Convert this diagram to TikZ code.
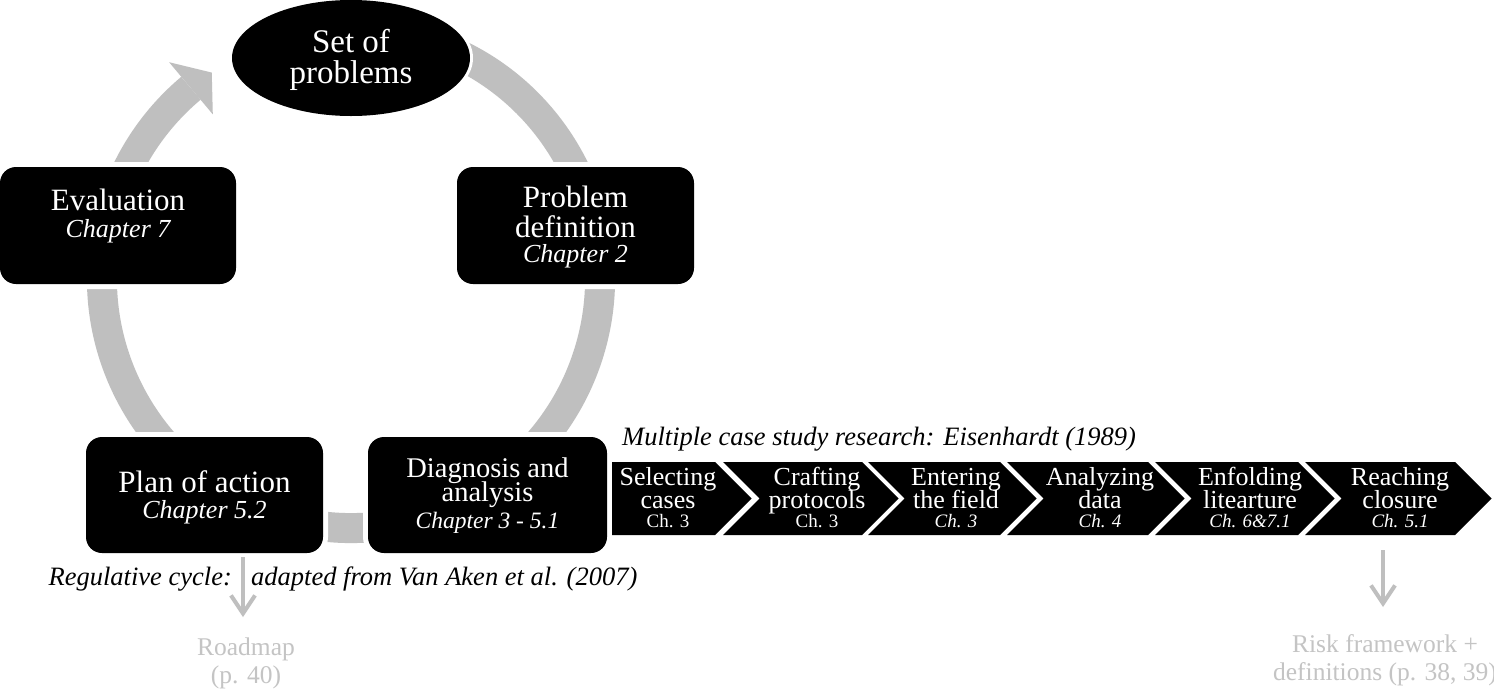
\documentclass[tikz,border=0pt]{standalone}
\usepackage{fontspec}
\setmainfont{Liberation Serif}
\usetikzlibrary{arrows.meta,calc,shapes.geometric}
\definecolor{arcgray}{HTML}{BFBFBF}
\definecolor{txtgray}{HTML}{C4C4C4}
\newcommand\fsz[1]{\fontsize{#1}{#1}\selectfont}
\newcommand\mychev[2]{\fill (#1,462) -- (#2,462) -- ({#2+36.5},498.5) -- (#2,535) -- (#1,535) -- ({#1+36.5},498.5) -- cycle;}
\tikzset{
  halo/.style={fill=black, preaction={draw=white, line width=#1}},
  cbox/.style={halo=10pt, rectangle, rounded corners=16pt, inner sep=0pt, minimum width=237pt, minimum height=117pt},
  wt/.style={text=white, inner sep=0pt, anchor=base},
  mainf/.style={wt, font=\fsz{31}},
  chapf/.style={wt, font=\fsz{26}\itshape},
  chevf/.style={wt, font=\fsz{26}},
  chf/.style={wt, font=\fsz{19}},
  chif/.style={wt, font=\fsz{19}\itshape},
  capt/.style={inner sep=0pt, anchor=base west, font=\fsz{26.5}\itshape},
  gtxt/.style={inner sep=0pt, anchor=base, text=txtgray, font=\fsz{25.5}},
  garrow/.style={draw=arcgray, line width=4pt, -{Straight Barb[length=18pt,width=24pt,line width=4pt]}}
}
\begin{document}
\begin{tikzpicture}[x=1pt,y=-1pt]
\clip (0,0) rectangle (1494,691);
\fill[white] (0,0) rectangle (1494,691);
% cycle arrow
\coordinate (cyc) at (351,279);
\draw[arcgray, line width=30pt] ([shift={(-72:249)}]cyc) arc[start angle=-72, end angle=230, radius=249];
\fill[arcgray] ([shift={(230:283)}]cyc) -- ([shift={(236:249)}]cyc) -- ([shift={(230:215)}]cyc) -- cycle;
% nodes of the cycle
\node[ellipse, halo=6pt, inner sep=0pt, minimum width=238pt, minimum height=116pt] (set) at (351,58) {};
\node[cbox, minimum width=236pt] (eval) at (118,225.5) {};
\node[cbox] (prob) at (575.5,225.5) {};
\node[cbox, minimum height=116pt] (plan) at (204.5,495) {};
\node[cbox, minimum width=239pt, minimum height=116pt] (diag) at (487.5,495) {};
% texts
\node[wt, font=\fsz{33}] (setA) at (351,52) {Set of};
\node[wt, font=\fsz{33}] (setB) at (351,83) {problems};
\node[mainf] (evalA) at (118,210) {Evaluation};
\node[chapf] (evalB) at (118,237) {Chapter 7};
\node[mainf] (probA) at (575.5,207) {Problem};
\node[mainf] (probB) at (575.5,237) {definition};
\node[chapf] (probC) at (575.5,262) {Chapter 2};
\node[mainf] (planA) at (204.5,492) {Plan of action};
\node[chapf] (planB) at (204.5,518) {Chapter 5.2};
\node[wt, font=\fsz{28.5}] (diagA) at (487.5,477) {Diagnosis and};
\node[wt, font=\fsz{28.5}] (diagB) at (487.5,501) {analysis};
\node[wt, font=\fsz{23.5}\itshape] (diagC) at (487.5,528) {Chapter 3 - 5.1};
% chevrons
\fill (612,462) -- (715,462) -- (751.5,498.5) -- (715,535) -- (612,535) -- cycle;
\mychev{723}{862}
\mychev{868}{1000}
\mychev{1007}{1148}
\mychev{1155}{1298}
\mychev{1305}{1455}
\node[chevf] (c1a) at (668,485) {Selecting};
\node[chevf] (c1b) at (668,508) {cases};
\node[chf]   (c1c) at (668,527) {Ch. 3};
\node[chevf] (c2a) at (817,485) {Crafting};
\node[chevf] (c2b) at (817,508) {protocols};
\node[chf]   (c2c) at (817,527) {Ch. 3};
\node[chevf] (c3a) at (956,485) {Entering};
\node[chevf] (c3b) at (956,508) {the field};
\node[chif]  (c3c) at (956,527) {Ch. 3};
\node[chevf] (c4a) at (1100,485) {Analyzing};
\node[chevf] (c4b) at (1100,508) {data};
\node[chif]  (c4c) at (1100,527) {Ch. 4};
\node[chevf] (c5a) at (1250,485) {Enfolding};
\node[chevf] (c5b) at (1250,508) {litearture};
\node[chif]  (c5c) at (1250,527) {Ch. 6\&7.1};
\node[chevf] (c6a) at (1400,485) {Reaching};
\node[chevf] (c6b) at (1400,508) {closure};
\node[chif]  (c6c) at (1400,527) {Ch. 5.1};
% output arrows
\coordinate (rmstart) at ($(plan.south)+(38.5,4)$);
\coordinate (rmtip) at (243,617);
\draw[garrow] (rmstart) -- (rmtip);
\node[gtxt] (rmA) at (246,655) {Roadmap};
\node[gtxt] (rmB) at (246,683) {(p. 40)};
\coordinate (rkstart) at (1383,550);
\coordinate (rktip) at (1383,607);
\draw[garrow] (rkstart) -- (rktip);
\node[gtxt] (rkA) at (1385,652) {Risk framework +};
\node[gtxt] (rkB) at (1385,680) {definitions (p. 38, 39)};
% captions
\node[capt] (capM) at (622,445) {Multiple case study research: Eisenhardt (1989)};
\node[capt, anchor=base east] (capR1) at (232,585) {Regulative cycle:};
\node[capt] (capR2) at (251,585) {adapted from Van Aken et al. (2007)};
\end{tikzpicture}
\end{document}
